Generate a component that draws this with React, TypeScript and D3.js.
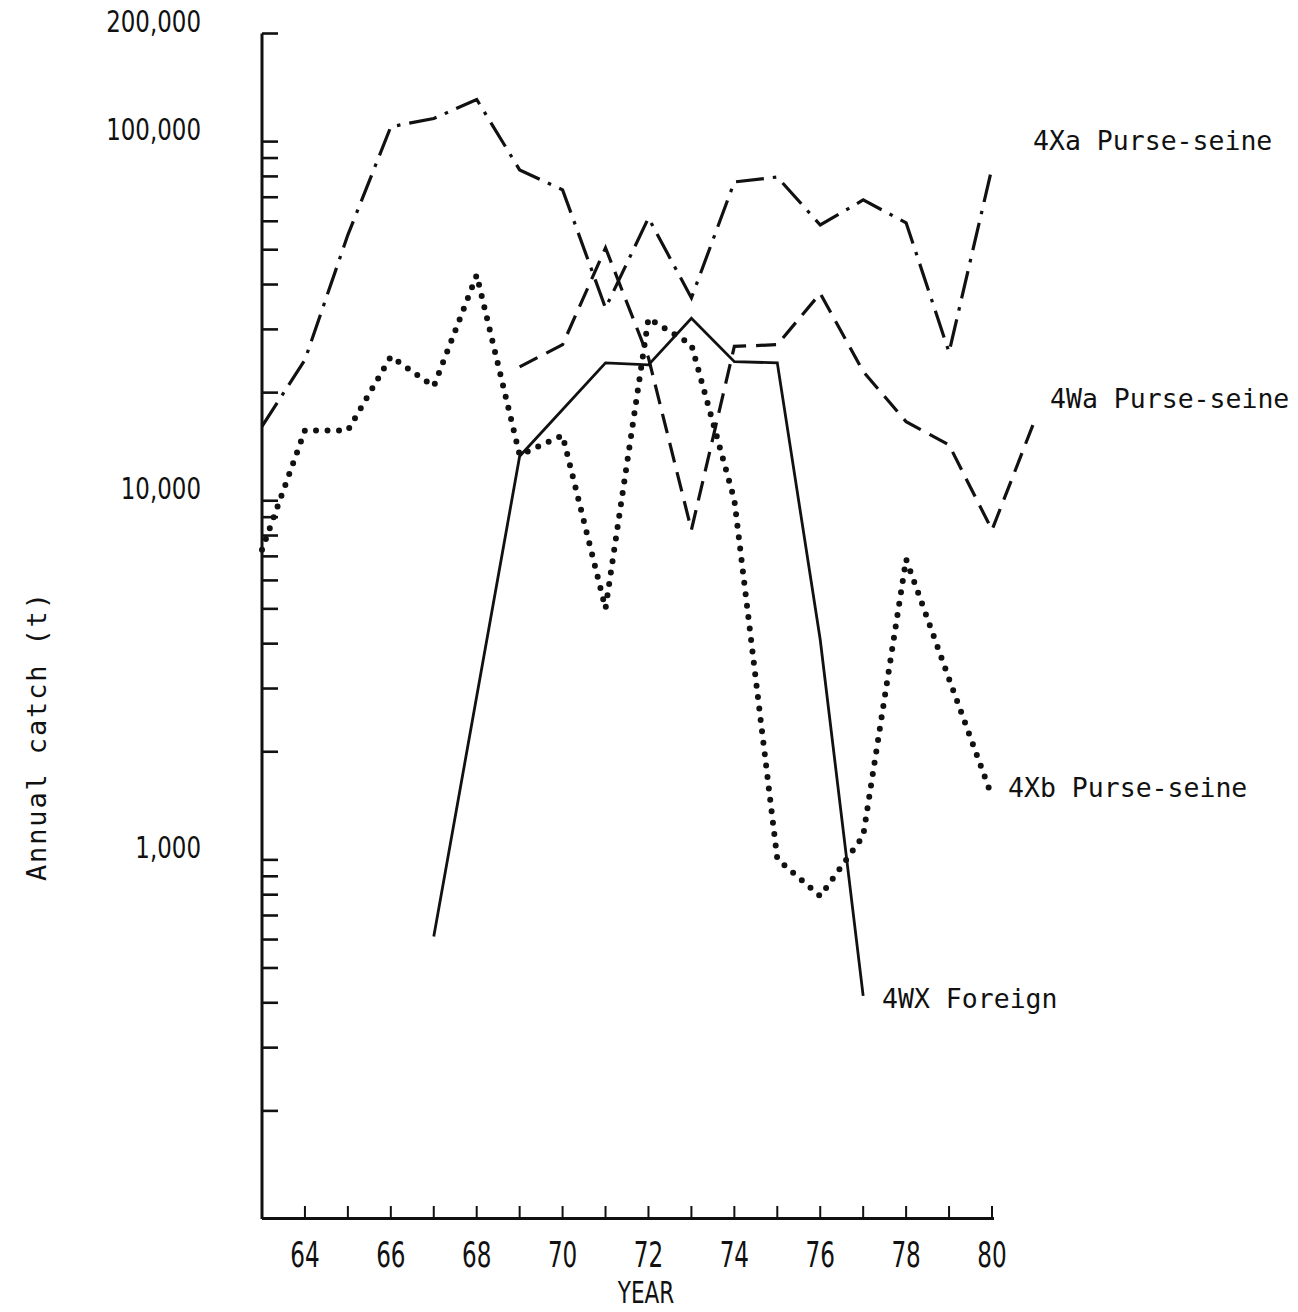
import React from 'react';
import * as d3 from 'd3';

// ---- data ----
const years4Xa = [63, 64, 65, 66, 67, 68, 69, 70, 71, 72, 73, 74, 75, 76, 77, 78, 79, 80];
const catch4Xa = [16100, 24700, 55000, 110000, 116000, 131000, 83400, 73400, 34400, 61300, 36700, 77200, 79700, 58600, 68800, 59400, 25900, 84500];

const years4Wa = [69, 70, 71, 72, 73, 74, 75, 76, 77, 78, 79, 80, 81];
const catch4Wa = [23600, 27200, 50600, 25000, 8290, 26900, 27200, 37800, 22900, 16600, 14300, 8290, 16800];

const years4Xb = [63, 64, 65, 66, 67, 68, 69, 70, 71, 72, 73, 74, 75, 76, 77, 78, 79, 80];
const catch4Xb = [7300, 15700, 15700, 25200, 20800, 42500, 13400, 15200, 5010, 32200, 27200, 10050, 1006, 792, 1166, 6870, 3190, 1500];

const years4WX = [67, 69, 71, 72, 73, 74, 75, 76, 77];
const catch4WX = [612, 13300, 24200, 23900, 32200, 24400, 24200, 4100, 418];

const yearTicks = [64, 65, 66, 67, 68, 69, 70, 71, 72, 73, 74, 75, 76, 77, 78, 79, 80];
const yearLabels = ['64', '66', '68', '70', '72', '74', '76', '78', '80'];
const catchLabelValues = [200000, 100000, 10000, 1000];
const catchLabelTexts = ['200,000', '100,000', '10,000', '1,000'];

const seriesNames = ['4Xa Purse-seine', '4Wa Purse-seine', '4Xb Purse-seine', '4WX Foreign'];

const W = 1298;
const H = 1312;

export default function App() {
  const x = d3.scaleLinear().domain([63, 80]).range([262, 992]);
  const y = d3.scaleLog().domain([100, 200000]).range([1219, 33.5]);

  const line = d3
    .line<[number, number]>()
    .x((d) => x(d[0]))
    .y((d) => y(d[1]));

  const pts = (ys: number[], vs: number[]) => ys.map((yr, i) => [yr, vs[i]] as [number, number]);

  const yTicks = y.ticks().filter((v) => v > 100);

  const axisX0 = x(63);
  const axisBottom = y(100);

  const tickFont = 'DejaVu Sans, sans-serif';
  const monoFont = 'DejaVu Sans Mono, monospace';
  const ink = '#111';

  return (
    <svg
      width={W}
      height={H}
      viewBox={`0 0 ${W} ${H}`}
      style={{ position: 'absolute', left: 0, top: 0, background: '#fff' }}
    >
      <rect x={0} y={0} width={W} height={H} fill="#fff" />

      {/* Y axis */}
      <line x1={axisX0} y1={y(200000)} x2={axisX0} y2={axisBottom} stroke={ink} strokeWidth={3} />
      {yTicks.map((v) => (
        <line key={'yt' + v} x1={axisX0} x2={axisX0 + 16} y1={y(v)} y2={y(v)} stroke={ink} strokeWidth={2.6} />
      ))}
      {catchLabelValues.map((v, i) => (
        <g key={'yl' + v} transform={`translate(201, ${y(v) - 2}) scale(0.74, 1)`}>
          <text x={0} y={0} textAnchor="end" fontFamily={tickFont} fontSize={31} fill={ink}>
            {catchLabelTexts[i]}
          </text>
        </g>
      ))}

      {/* X axis */}
      <line x1={axisX0} y1={axisBottom - 0.5} x2={x(80) + 2} y2={axisBottom - 0.5} stroke={ink} strokeWidth={3} />
      {yearTicks.map((t) => (
        <line key={'xt' + t} x1={x(t)} x2={x(t)} y1={axisBottom} y2={axisBottom - 13} stroke={ink} strokeWidth={2} />
      ))}
      {yearLabels.map((t) => (
        <g key={'xl' + t} transform={`translate(${x(+t)}, 1267) scale(0.66, 1)`}>
          <text x={0} y={0} textAnchor="middle" fontFamily={tickFont} fontSize={35} fill={ink}>
            {t}
          </text>
        </g>
      ))}
      <g transform="translate(646, 1303) scale(0.72, 1)">
        <text x={0} y={0} textAnchor="middle" fontFamily={tickFont} fontSize={30} fill={ink}>
          YEAR
        </text>
      </g>

      {/* Y axis title */}
      <text
        transform="translate(46, 737) rotate(-90)"
        textAnchor="middle"
        fontFamily={monoFont}
        fontSize={27}
        fill={ink}
        textLength={288}
        lengthAdjust="spacing"
      >
        Annual catch (t)
      </text>

      {/* Series */}
      <path
        d={line(pts(years4Xa, catch4Xa)) || ''}
        fill="none"
        stroke={ink}
        strokeWidth={3.2}
        strokeDasharray="28 9 3.5 9"
        strokeLinejoin="miter"
      />
      <path
        d={line(pts(years4Wa, catch4Wa)) || ''}
        fill="none"
        stroke={ink}
        strokeWidth={3.2}
        strokeDasharray="20 10"
      />
      <path
        d={line(pts(years4Xb, catch4Xb)) || ''}
        fill="none"
        stroke={ink}
        strokeWidth={6}
        strokeDasharray="0 11.5"
        strokeLinecap="round"
      />
      <path
        d={line(pts(years4WX, catch4WX)) || ''}
        fill="none"
        stroke={ink}
        strokeWidth={2.8}
        strokeLinejoin="miter"
      />

      {/* Series labels */}
      <text x={1033} y={150} fontFamily={monoFont} fontSize={26.5} fill={ink}>
        {seriesNames[0]}
      </text>
      <text x={1050} y={408} fontFamily={monoFont} fontSize={26.5} fill={ink}>
        {seriesNames[1]}
      </text>
      <text x={1008} y={797} fontFamily={monoFont} fontSize={26.5} fill={ink}>
        {seriesNames[2]}
      </text>
      <text x={882} y={1008} fontFamily={monoFont} fontSize={26.5} fill={ink}>
        {seriesNames[3]}
      </text>
    </svg>
  );
}
